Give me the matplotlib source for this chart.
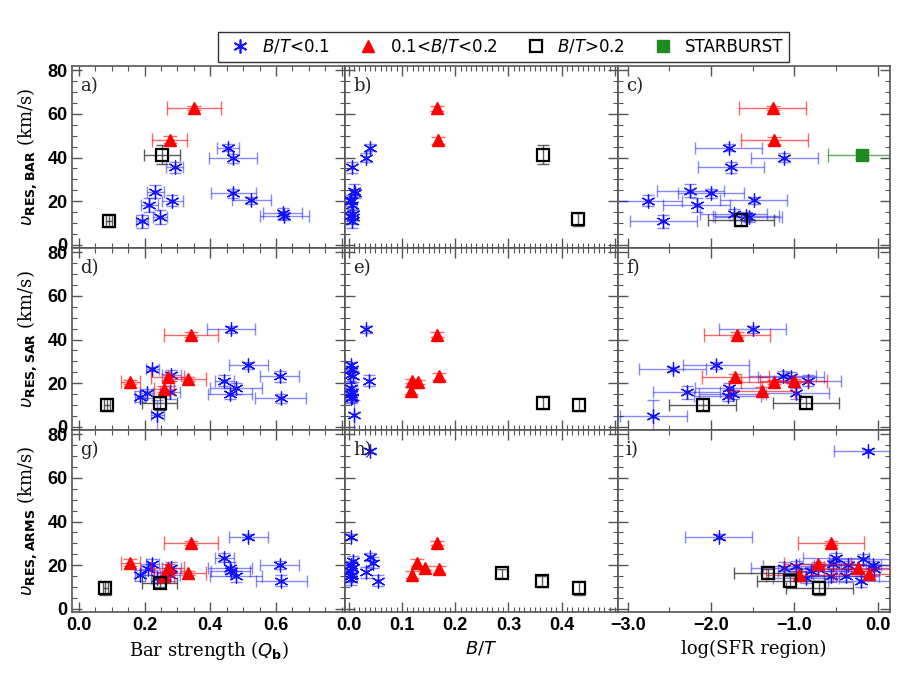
import matplotlib
matplotlib.use('Agg')
import matplotlib.pyplot as plt
from matplotlib.lines import Line2D
from matplotlib.ticker import MultipleLocator

# ---- data ----
# a) v_RES,BAR vs Qb
a_blue_x = [0.454, 0.470, 0.292, 0.233, 0.470, 0.285, 0.525, 0.215, 0.247, 0.193, 0.620, 0.625]
a_blue_y = [44.5, 39.7, 35.5, 24.4, 23.5, 20.1, 20.4, 18.2, 12.7, 10.8, 14.5, 13.2]
a_blue_xe = [0.032, 0.073, 0.026, 0.025, 0.068, 0.032, 0.060, 0.025, 0.020, 0.018, 0.060, 0.075]
a_blue_ye = [1.5, 2.0, 2.5, 3.0, 2.0, 2.5, 1.5, 3.0, 3.0, 3.0, 2.5, 2.0]
a_red_x = [0.351, 0.277]
a_red_y = [62.6, 48.2]
a_red_xe = [0.083, 0.053]
a_red_ye = [1.0, 1.5]
a_black_x = [0.252, 0.092]
a_black_y = [41.3, 11.1]
a_black_xe = [0.055, 0.008]
a_black_ye = [4.4, 2.8]

# b) v_RES,BAR vs B/T
b_blue_x = [0.040, 0.033, 0.007, 0.010, 0.012, 0.005, 0.004, 0.006, 0.008, 0.003, 0.009, 0.006]
b_blue_y = [44.5, 39.9, 35.5, 24.7, 23.6, 20.4, 20.1, 18.2, 13.9, 13.1, 12.7, 10.8]
b_blue_ye = [1.5, 2.0, 2.5, 3.0, 2.0, 1.5, 2.5, 3.0, 2.5, 2.0, 3.0, 3.0]
b_red_x = [0.165, 0.168]
b_red_y = [62.6, 47.9]
b_red_ye = [1.2, 1.5]
b_black_x = [0.364, 0.431]
b_black_y = [41.3, 11.6]
b_black_ye = [4.4, 3.0]

# c) v_RES,BAR vs log SFR
sfr_err = 0.40
c_blue_x = [-1.79, -1.12, -1.76, -2.25, -2.00, -2.75, -1.49, -2.17, -2.57, -1.73, -1.58, -1.55]
c_blue_y = [44.5, 39.9, 35.5, 24.7, 23.6, 20.1, 20.4, 18.2, 10.8, 13.9, 13.1, 12.5]
c_blue_ye = [1.5, 2.0, 2.5, 3.0, 2.0, 2.5, 1.5, 3.0, 3.0, 2.5, 2.0, 2.0]
c_red_x = [-1.26, -1.24]
c_red_y = [62.6, 47.9]
c_red_ye = [1.0, 1.5]
c_black_x = [-1.64]
c_black_y = [11.3]
c_black_ye = [2.8]
c_green_x = [-0.19]
c_green_y = [41.0]
c_green_xe = [0.41]
c_green_ye = [1.5]

# d) v_RES,SAR vs Qb
d_blue_x = [0.462, 0.516, 0.611, 0.224, 0.282, 0.443, 0.478, 0.460, 0.614, 0.277, 0.206, 0.187, 0.239]
d_blue_y = [44.6, 28.2, 23.1, 26.6, 23.5, 21.1, 17.7, 15.1, 13.1, 15.8, 15.4, 13.8, 5.4]
d_blue_xe = [0.073, 0.060, 0.060, 0.020, 0.030, 0.030, 0.078, 0.068, 0.077, 0.030, 0.020, 0.015, 0.020]
d_blue_ye = [1.5, 1.5, 2.5, 1.0, 2.5, 2.5, 2.5, 2.5, 2.0, 3.0, 2.0, 2.5, 7.0]
d_red_x = [0.342, 0.157, 0.333, 0.271, 0.260]
d_red_y = [42.3, 20.5, 21.8, 22.6, 17.4]
d_red_xe = [0.083, 0.029, 0.055, 0.050, 0.030]
d_red_ye = [1.0, 1.0, 1.0, 1.5, 1.5]
d_black_x = [0.086, 0.246]
d_black_y = [10.0, 10.8]
d_black_xe = [0.008, 0.053]
d_black_ye = [3.0, 3.0]

# e) v_RES,SAR vs B/T
e_blue_x = [0.032, 0.039, 0.004, 0.006, 0.003, 0.008, 0.005, 0.007, 0.004, 0.006, 0.005, 0.010]
e_blue_y = [44.6, 21.1, 28.2, 26.6, 23.5, 23.1, 17.7, 15.8, 15.1, 13.8, 13.1, 5.4]
e_blue_ye = [1.5, 2.5, 1.5, 1.0, 2.5, 2.5, 2.5, 3.0, 2.5, 2.5, 2.0, 7.0]
e_red_x = [0.165, 0.170, 0.119, 0.130, 0.117]
e_red_y = [42.3, 23.1, 21.1, 20.5, 16.6]
e_red_ye = [1.0, 1.5, 1.0, 1.0, 1.5]
e_black_x = [0.365, 0.433]
e_black_y = [11.1, 10.0]
e_black_ye = [3.0, 3.0]

# f) v_RES,SAR vs log SFR
f_blue_x = [-1.50, -2.46, -1.94, -1.14, -1.04, -0.84, -2.29, -1.79, -1.80, -1.74, -0.98, -2.69]
f_blue_y = [44.6, 26.6, 28.2, 23.1, 22.6, 21.1, 15.8, 17.7, 14.3, 14.9, 15.4, 5.1]
f_blue_ye = [1.5, 1.0, 1.5, 2.5, 2.5, 2.5, 3.0, 2.5, 2.5, 2.0, 2.5, 7.0]
f_red_x = [-1.69, -1.71, -1.24, -1.01, -1.39]
f_red_y = [42.3, 22.6, 20.5, 21.1, 16.6]
f_red_ye = [1.0, 1.5, 1.0, 1.0, 1.5]
f_black_x = [-2.10, -0.86]
f_black_y = [10.0, 11.1]
f_black_ye = [3.0, 3.0]

# g) v_RES,ARMS vs Qb
g_blue_x = [0.516, 0.443, 0.460, 0.462, 0.478, 0.611, 0.616, 0.224, 0.282, 0.209, 0.187, 0.277, 0.239]
g_blue_y = [33.1, 23.4, 18.8, 17.2, 14.9, 20.0, 12.9, 20.3, 18.8, 18.0, 15.4, 15.7, 14.2]
g_blue_xe = [0.060, 0.030, 0.068, 0.060, 0.078, 0.060, 0.077, 0.020, 0.030, 0.020, 0.015, 0.030, 0.020]
g_blue_ye = [1.0, 2.0, 2.5, 2.0, 2.5, 2.0, 2.5, 2.5, 2.5, 2.5, 2.5, 3.0, 2.5]
g_red_x = [0.342, 0.157, 0.333, 0.271, 0.260]
g_red_y = [30.3, 21.1, 16.5, 18.8, 14.9]
g_red_xe = [0.083, 0.029, 0.055, 0.050, 0.030]
g_red_ye = [1.0, 1.5, 1.0, 1.5, 1.5]
g_black_x = [0.081, 0.246]
g_black_y = [9.5, 11.8]
g_black_xe = [0.008, 0.053]
g_black_ye = [3.0, 2.0]

# h) v_RES,ARMS vs B/T
h_blue_x = [0.040, 0.005, 0.040, 0.045, 0.032, 0.055, 0.004, 0.006, 0.003, 0.007, 0.005, 0.008, 0.004]
h_blue_y = [72.3, 33.1, 23.7, 21.1, 16.8, 12.9, 20.0, 18.8, 17.2, 15.4, 14.9, 22.0, 13.5]
h_blue_ye = [1.0, 1.0, 2.0, 2.5, 2.5, 2.5, 2.0, 2.5, 2.0, 2.5, 2.5, 2.0, 2.5]
h_red_x = [0.165, 0.128, 0.143, 0.170, 0.118]
h_red_y = [30.3, 21.1, 18.8, 18.0, 15.7]
h_red_ye = [1.0, 1.5, 1.0, 1.5, 1.5]
h_black_x = [0.287, 0.363, 0.433]
h_black_y = [16.2, 12.6, 9.5]
h_black_ye = [2.0, 2.5, 3.0]

# i) v_RES,ARMS vs log SFR
i_blue_x = [-0.12, -1.91, -1.12, -0.86, -0.72, -0.56, -0.50, -0.38, -0.36, -0.18, -0.20, -0.06, -0.04, -0.80, -0.98, -0.54]
i_blue_y = [72.3, 33.1, 18.8, 14.2, 18.0, 14.9, 23.4, 14.9, 20.0, 22.6, 12.6, 20.0, 18.0, 17.2, 19.5, 20.3]
i_blue_ye = [1.0, 1.0, 2.5, 2.5, 2.5, 2.5, 2.0, 2.5, 2.0, 2.5, 2.5, 2.0, 2.5, 2.0, 2.5, 2.0]
i_red_x = [-0.56, -0.94, -0.72, -0.24, -0.10]
i_red_y = [30.3, 15.7, 20.6, 18.8, 16.0]
i_red_ye = [1.0, 1.5, 1.0, 1.5, 1.5]
i_black_x = [-1.32, -1.05, -0.70]
i_black_y = [16.2, 12.6, 9.5]
i_black_ye = [2.0, 2.5, 3.0]

# ---- styles ----
BLUE = '#1010ff'
RED = '#ff0000'
GREEN = '#1f8a1f'
ASTER = (6, 2, 0)


def draw(ax, x, y, xe, ye, kind):
    if kind == 'blue':
        ax.errorbar(x, y, xerr=xe, yerr=ye, fmt='none', ecolor=BLUE, alpha=0.5,
                    elinewidth=1.0, capsize=4, capthick=1.0, zorder=2)
        ax.plot(x, y, ls='none', marker=ASTER, ms=10, mew=0.9, color=BLUE, zorder=3)
        ax.plot(x, y, ls='none', marker='o', ms=2, color=BLUE, zorder=3)
    elif kind == 'red':
        ax.errorbar(x, y, xerr=xe, yerr=ye, fmt='none', ecolor=RED, alpha=0.6,
                    elinewidth=1.0, capsize=5, capthick=1.0, zorder=4)
        ax.plot(x, y, ls='none', marker='^', ms=9, color=RED, mec=RED, zorder=5)
    elif kind == 'black':
        ax.errorbar(x, y, xerr=xe, yerr=ye, fmt='none', ecolor='#333333', alpha=0.8,
                    elinewidth=1.0, capsize=4, capthick=1.0, zorder=4)
        ax.plot(x, y, ls='none', marker='s', ms=9, mfc='none', mec='black', mew=1.6, zorder=5)
    elif kind == 'green':
        ax.errorbar(x, y, xerr=xe, yerr=ye, fmt='none', ecolor=GREEN, alpha=0.7,
                    elinewidth=1.0, capsize=5, capthick=1.0, zorder=4)
        ax.plot(x, y, ls='none', marker='s', ms=9, color=GREEN, zorder=5)


fig = plt.figure(figsize=(9.15, 6.8), dpi=100)
gs = fig.add_gridspec(3, 3, left=0.079, right=0.973, bottom=0.10, top=0.903,
                      wspace=0, hspace=0)
axes = [[fig.add_subplot(gs[r, c]) for c in range(3)] for r in range(3)]

n = len
draw(axes[0][0], a_blue_x, a_blue_y, a_blue_xe, a_blue_ye, 'blue')
draw(axes[0][0], a_red_x, a_red_y, a_red_xe, a_red_ye, 'red')
draw(axes[0][0], a_black_x, a_black_y, a_black_xe, a_black_ye, 'black')

draw(axes[0][1], b_blue_x, b_blue_y, None, b_blue_ye, 'blue')
draw(axes[0][1], b_red_x, b_red_y, None, b_red_ye, 'red')
draw(axes[0][1], b_black_x, b_black_y, None, b_black_ye, 'black')

draw(axes[0][2], c_blue_x, c_blue_y, [sfr_err] * n(c_blue_x), c_blue_ye, 'blue')
draw(axes[0][2], c_red_x, c_red_y, [sfr_err] * n(c_red_x), c_red_ye, 'red')
draw(axes[0][2], c_black_x, c_black_y, [sfr_err] * n(c_black_x), c_black_ye, 'black')
draw(axes[0][2], c_green_x, c_green_y, c_green_xe, c_green_ye, 'green')

draw(axes[1][0], d_blue_x, d_blue_y, d_blue_xe, d_blue_ye, 'blue')
draw(axes[1][0], d_red_x, d_red_y, d_red_xe, d_red_ye, 'red')
draw(axes[1][0], d_black_x, d_black_y, d_black_xe, d_black_ye, 'black')

draw(axes[1][1], e_blue_x, e_blue_y, None, e_blue_ye, 'blue')
draw(axes[1][1], e_red_x, e_red_y, None, e_red_ye, 'red')
draw(axes[1][1], e_black_x, e_black_y, None, e_black_ye, 'black')

draw(axes[1][2], f_blue_x, f_blue_y, [sfr_err] * n(f_blue_x), f_blue_ye, 'blue')
draw(axes[1][2], f_red_x, f_red_y, [sfr_err] * n(f_red_x), f_red_ye, 'red')
draw(axes[1][2], f_black_x, f_black_y, [sfr_err] * n(f_black_x), f_black_ye, 'black')

draw(axes[2][0], g_blue_x, g_blue_y, g_blue_xe, g_blue_ye, 'blue')
draw(axes[2][0], g_red_x, g_red_y, g_red_xe, g_red_ye, 'red')
draw(axes[2][0], g_black_x, g_black_y, g_black_xe, g_black_ye, 'black')

draw(axes[2][1], h_blue_x, h_blue_y, None, h_blue_ye, 'blue')
draw(axes[2][1], h_red_x, h_red_y, None, h_red_ye, 'red')
draw(axes[2][1], h_black_x, h_black_y, None, h_black_ye, 'black')

draw(axes[2][2], i_blue_x, i_blue_y, [sfr_err] * n(i_blue_x), i_blue_ye, 'blue')
draw(axes[2][2], i_red_x, i_red_y, [sfr_err] * n(i_red_x), i_red_ye, 'red')
draw(axes[2][2], i_black_x, i_black_y, [sfr_err] * n(i_black_x), i_black_ye, 'black')

# ---- axes cosmetics ----
xlims = [(-0.02, 0.81), (-0.007, 0.505), (-3.12, 0.15)]
xmaj = [0.2, 0.1, 1.0]
xmin_ = [0.05, 0.01, 0.5]
letters = 'abcdefghi'
ylabels = [r'$\upsilon_{\mathbf{RES,BAR}}$ (km/s)',
           r'$\upsilon_{\mathbf{RES,SAR}}$ (km/s)',
           r'$\upsilon_{\mathbf{RES,ARMS}}$ (km/s)']
xlabels = [r'Bar strength ($Q_{\mathbf{b}}$)', r'$B/T$', 'log(SFR region)']
tickfont = dict(family='Liberation Sans', weight='bold', size=13)

for r in range(3):
    for c in range(3):
        ax = axes[r][c]
        ax.set_xlim(*xlims[c])
        ax.set_ylim(-1.5, 82)
        ax.xaxis.set_major_locator(MultipleLocator(xmaj[c]))
        ax.xaxis.set_minor_locator(MultipleLocator(xmin_[c]))
        ax.yaxis.set_major_locator(MultipleLocator(20))
        ax.yaxis.set_minor_locator(MultipleLocator(5))
        ax.tick_params(which='both', direction='in', top=True, right=True, color='#555555')
        ax.tick_params(which='major', length=7, width=1)
        ax.tick_params(which='minor', length=3.5, width=0.8)
        for s in ax.spines.values():
            s.set_color('#555555')
            s.set_linewidth(1.2)
        ax.text(0.03, 0.86, letters[3 * r + c] + ')', transform=ax.transAxes,
                family='DejaVu Serif', fontsize=13, color='#222222')
        if c == 0:
            ax.set_yticks([0, 20, 40, 60, 80])
            ax.set_yticklabels(['0', '20', '40', '60', '80'], **tickfont)
            ax.set_ylabel(ylabels[r], family='DejaVu Serif', fontsize=13, labelpad=6)
        else:
            ax.set_yticklabels([])
        if r == 2:
            span = xlims[c][1] - xlims[c][0]
            ticks = [t for t in ax.get_xticks() if xlims[c][0] - 1e-9 <= t <= xlims[c][1] - 0.02 * span]
            ax.set_xticks(ticks)
            ax.set_xticklabels([('%.1f' % t).replace('-', '\u2212') for t in ticks], **tickfont)
            ax.set_xlabel(xlabels[c], family='DejaVu Serif', fontsize=13, labelpad=4)
        else:
            ax.set_xticklabels([])

# ---- legend ----
handles = [
    Line2D([], [], ls='none', marker=ASTER, ms=10, mew=1.2, color=BLUE),
    Line2D([], [], ls='none', marker='^', ms=9, color=RED),
    Line2D([], [], ls='none', marker='s', ms=9, mfc='none', mec='black', mew=1.6),
    Line2D([], [], ls='none', marker='s', ms=9, color=GREEN),
]
labels = [r'$B/T$<0.1', r'0.1<$B/T$<0.2', r'$B/T$>0.2', 'STARBURST']
leg = fig.legend(handles, labels, loc='upper center', bbox_to_anchor=(0.55, 0.965), ncol=4,
                 frameon=True, fancybox=False, edgecolor='black', handletextpad=0.3,
                 columnspacing=1.3, borderpad=0.35, prop=dict(family='DejaVu Sans', size=12))
leg.get_frame().set_linewidth(1.0)

fig.savefig('out.png', dpi=100)
